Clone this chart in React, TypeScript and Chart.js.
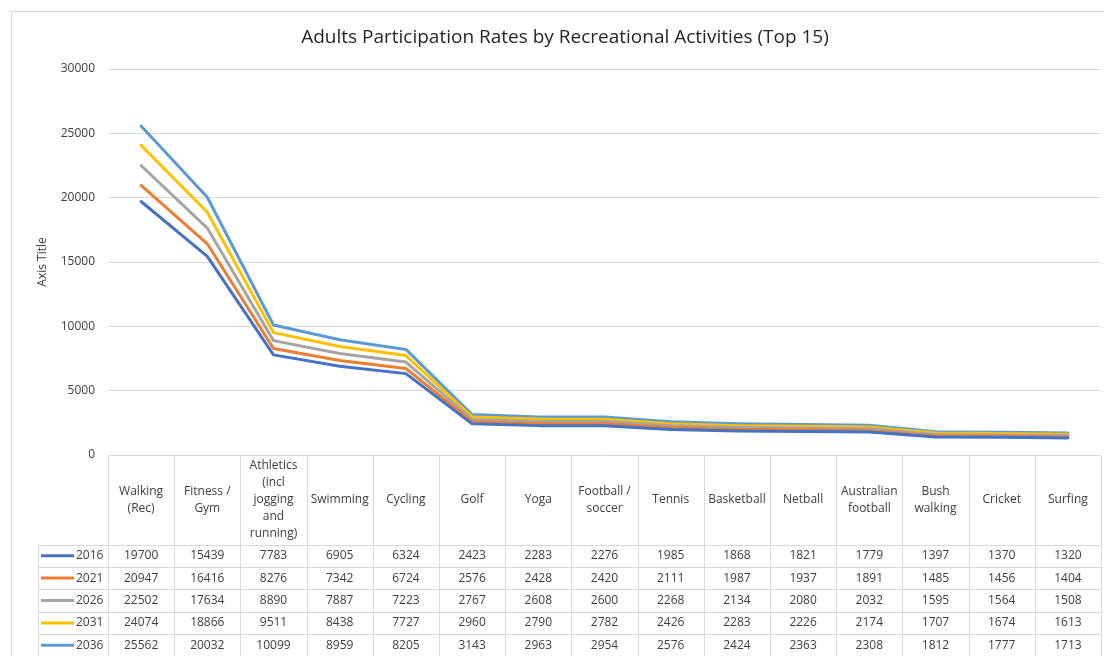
import React, { useEffect, useRef } from "react";
import { Chart, registerables } from "chart.js";

Chart.register(...registerables);

const chartTitle = "Adults Participation Rates by Recreational Activities (Top 15)";
const yAxisTitle = "Axis Title";

const categories: string[][] = [
  ["Walking", "(Rec)"],
  ["Fitness /", "Gym"],
  ["Athletics", "(incl", "jogging", "and", "running)"],
  ["Swimming"],
  ["Cycling"],
  ["Golf"],
  ["Yoga"],
  ["Football /", "soccer"],
  ["Tennis"],
  ["Basketball"],
  ["Netball"],
  ["Australian", "football"],
  ["Bush", "walking"],
  ["Cricket"],
  ["Surfing"],
];

const years = ["2016", "2021", "2026", "2031", "2036"];

const values2016 = [19700, 15439, 7783, 6905, 6324, 2423, 2283, 2276, 1985, 1868, 1821, 1779, 1397, 1370, 1320];
const values2021 = [20947, 16416, 8276, 7342, 6724, 2576, 2428, 2420, 2111, 1987, 1937, 1891, 1485, 1456, 1404];
const values2026 = [22502, 17634, 8890, 7887, 7223, 2767, 2608, 2600, 2268, 2134, 2080, 2032, 1595, 1564, 1508];
const values2031 = [24074, 18866, 9511, 8438, 7727, 2960, 2790, 2782, 2426, 2283, 2226, 2174, 1707, 1674, 1613];
const values2036 = [25562, 20032, 10099, 8959, 8205, 3143, 2963, 2954, 2576, 2424, 2363, 2308, 1812, 1777, 1713];

const seriesValues = [values2016, values2021, values2026, values2031, values2036];
const seriesColors = ["#4472C4", "#ED7D31", "#A5A5A5", "#FFC000", "#5B9BD5"];

const FONT = "'Open Sans', 'Liberation Sans', sans-serif";
const TEXT = "#404040";
const GRID = "#d9d9d9";

const tablePlugin = {
  id: "excelTable",
  afterDraw(chart: any) {
    const ctx = chart.ctx;
    const area = chart.chartArea;
    const xs = chart.scales.x;
    ctx.save();

    // outer chart border
    ctx.strokeStyle = GRID;
    ctx.lineWidth = 1;
    ctx.strokeRect(11.5, 11.5, 1300, 1000);

    // title
    ctx.fillStyle = "#262626";
    ctx.font = `19px ${FONT}`;
    ctx.textAlign = "center";
    ctx.textBaseline = "middle";
    ctx.fillText(chartTitle, 565, 38);

    // y axis title
    ctx.fillStyle = TEXT;
    ctx.save();
    ctx.translate(43, (area.top + area.bottom) / 2);
    ctx.rotate(-Math.PI / 2);
    ctx.font = `12px ${FONT}`;
    ctx.fillText(yAxisTitle, 0, 0);
    ctx.restore();

    // table geometry
    const n = categories.length;
    const colW = (area.right - area.left) / n;
    const headerTop = Math.round(area.bottom) + 0.5;
    const headerBottom = headerTop + 89;
    const rowH = 22.4;
    const legendLeft = 38.5;
    const tableRight = area.right;
    const tableBottom = 700;

    ctx.strokeStyle = GRID;
    ctx.lineWidth = 1;
    ctx.beginPath();
    ctx.moveTo(area.left, headerTop);
    ctx.lineTo(tableRight, headerTop);
    for (let r = 0; r <= years.length; r++) {
      const y = Math.round(headerBottom + r * rowH) + 0.5;
      ctx.moveTo(legendLeft, y);
      ctx.lineTo(tableRight, y);
    }
    for (let c = 0; c <= n; c++) {
      const x = Math.round(area.left + c * colW) + 0.5;
      ctx.moveTo(x, headerTop);
      ctx.lineTo(x, tableBottom);
    }
    ctx.moveTo(legendLeft, headerBottom);
    ctx.lineTo(legendLeft, tableBottom);
    ctx.stroke();

    // header text
    ctx.fillStyle = TEXT;
    ctx.font = `12px ${FONT}`;
    ctx.textAlign = "center";
    ctx.textBaseline = "middle";
    const lineH = 17;
    const headerMid = (headerTop + headerBottom) / 2;
    categories.forEach((lines, i) => {
      const cx = xs.getPixelForValue(i);
      const startY = headerMid - ((lines.length - 1) * lineH) / 2;
      lines.forEach((ln, k) => ctx.fillText(ln, cx, startY + k * lineH));
    });

    // rows
    years.forEach((yr, r) => {
      const cy = headerBottom + r * rowH + rowH / 2;
      ctx.strokeStyle = seriesColors[r];
      ctx.lineWidth = 3;
      ctx.beginPath();
      ctx.moveTo(41, cy);
      ctx.lineTo(74, cy);
      ctx.stroke();
      ctx.fillStyle = TEXT;
      ctx.textAlign = "left";
      ctx.fillText(yr, 76, cy);
      ctx.textAlign = "center";
      seriesValues[r].forEach((v, i) => {
        ctx.fillText(String(v), xs.getPixelForValue(i), cy);
      });
    });

    ctx.restore();
  },
};

export default function App() {
  const canvasRef = useRef<HTMLCanvasElement | null>(null);

  useEffect(() => {
    document.body.style.margin = "0";
    const canvas = canvasRef.current;
    if (!canvas) return;
    const chart = new Chart(canvas, {
      type: "line",
      data: {
        labels: categories.map((c) => c.join(" ")),
        datasets: years.map((yr, i) => ({
          label: yr,
          data: seriesValues[i],
          borderColor: seriesColors[i],
          backgroundColor: seriesColors[i],
          borderWidth: 3,
          pointRadius: 0,
          pointHoverRadius: 0,
          tension: 0,
          borderJoinStyle: "round" as const,
          borderCapStyle: "round" as const,
        })),
      },
      options: {
        responsive: false,
        animation: false,
        devicePixelRatio: 1,
        layout: { padding: { left: 0, top: 69, right: 3, bottom: 201 } },
        plugins: {
          legend: { display: false },
          title: { display: false },
          tooltip: { enabled: false },
        },
        scales: {
          x: {
            type: "category",
            display: false,
            offset: true,
          },
          y: {
            min: 0,
            max: 30000,
            border: { display: false },
            grid: { color: GRID, lineWidth: 1, drawTicks: false },
            ticks: {
              stepSize: 5000,
              padding: 13,
              color: TEXT,
              font: { family: FONT, size: 12 },
              callback: (v: any) => String(v),
            },
            afterFit(scale: any) {
              scale.width = 108;
            },
          },
        },
      },
      plugins: [tablePlugin],
    });
    return () => chart.destroy();
  }, []);

  return (
    <canvas
      ref={canvasRef}
      width={1104}
      height={656}
      style={{ position: "absolute", left: 0, top: 0, display: "block" }}
    />
  );
}
